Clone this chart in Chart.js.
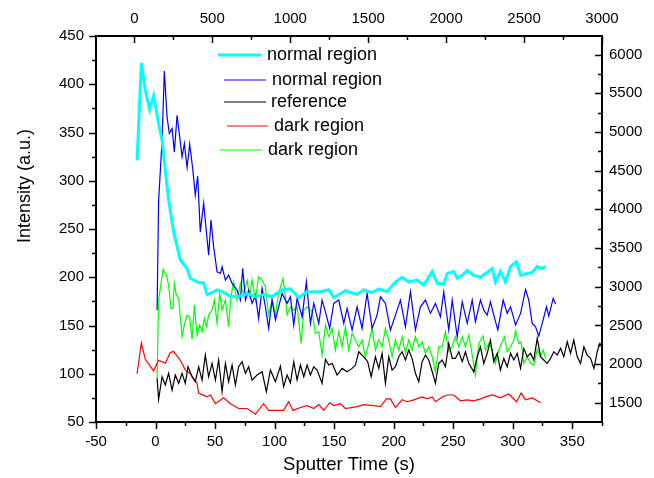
<!DOCTYPE html>
<html><head><meta charset="utf-8">
<script src="https://cdn.jsdelivr.net/npm/chart.js@4/dist/chart.umd.min.js"></script>
<style>html,body{margin:0;padding:0;background:#fff}canvas{display:block}</style>
</head><body>
<canvas id="c" width="654" height="478"></canvas>
<script>
// ---- data (time in s; intensity left axis a.u.; counts right axis) ----
const seriesLabels = ['normal region','normal region','reference','dark region','dark region'];

const cyanTime = [-15.5,-11.9,-8.6,-5.0,-1.6,2.6,5.5,11.0,15.2,20.8,26.5,29.2,34.9,40.4,43.3,47.5,51.7,55.9,62.9,69.8,76.9,83.9,90.8,97.9,106.3,113.3,120.3,127.3,138.5,145.5,149.7,159.5,169.3,174.9,181.9,187.5,194.5,201.5,207.1,212.7,219.7,225.3,232.4,236.6,242.1,245.0,250.5,253.4,257.6,261.8,267.3,272.9,282.8,285.5,289.7,293.9,298.2,303.2,306.6,316.4,320.6,324.8,327.6];
const cyanIntensity = [321,422,394,374,388,359,342,280,247,218,209,199,195,194,182,184,187,185,180,180,183,180,182,180,187,188,179,185,185,187,179,186,182,187,184,188,185,195,200,195,197,192,206,194,193,204,206,199,202,207,202,200,209,195,206,195,211,216,202,205,211,209,211];

const redTime = [-15.5,-11.9,-8.6,-1.6,2.6,8.2,12.4,15.2,20.8,25.0,29.2,34.9,36.2,43.3,46.1,50.3,57.2,62.9,69.8,76.9,83.9,90.8,95.0,100.7,107.6,111.8,115.5,121.7,127.3,132.9,137.1,141.3,146.3,149.7,155.3,159.5,169.3,174.9,183.3,188.9,193.9,197.3,201.5,207.1,211.3,216.9,224.0,228.2,232.4,235.1,240.8,245.0,250.5,256.1,261.8,267.3,272.9,277.1,282.8,289.7,296.7,303.2,307.1,310.8,316.4,323.4];
const redIntensity = [100,132,115,103,114,111,122,123,114,104,100,90,80,76,78,69,75,69,64,64,58,69,62,62,62,71,62,65,67,64,68,62,70,67,69,64,66,68,67,66,74,74,65,73,71,73,76,74,76,71,76,78,78,72,73,72,74,76,78,75,79,71,80,73,75,70];

const blueTime = [1.3,2.6,5.5,7.4,9.7,11.6,13.9,15.8,18.1,20.3,22.3,24.2,26.5,28.7,31.2,33.4,35.4,37.6,40.4,44.6,46.6,48.8,51.7,54.5,55.9,58.7,61.4,64.3,68.5,71.3,73.2,75.5,78.2,81.1,83.9,86.6,89.5,92.3,95.0,97.9,100.7,103.4,106.3,110.5,113.3,116.1,118.9,123.1,126.7,130.1,132.9,137.1,139.9,142.7,146.3,149.7,153.9,158.1,160.9,165.1,169.3,173.5,177.7,181.9,186.1,188.9,193.1,197.3,201.5,205.7,209.9,214.1,218.3,222.5,226.7,230.9,235.1,239.3,242.1,246.3,249.2,253.4,257.6,261.8,266.0,268.7,272.9,275.7,278.6,281.3,284.1,287.5,292.0,295.4,298.2,302.4,306.6,310.8,313.5,316.4,319.2,321.9,324.8,328.4,330.3,334.0,336.0];
const blueCounts = [2697,4118,4893,5788,5194,4980,5044,4742,5216,4936,4678,4851,4541,4842,4528,4183,4428,3705,4080,3408,3860,3515,3192,3171,3257,3085,3149,3042,2956,2827,3236,2827,2956,2784,2891,2590,2978,2740,2461,2827,2568,2740,2913,2784,2869,2504,2849,2611,3063,2526,2784,2526,2827,2675,2461,2784,2827,2526,2719,2439,2740,2461,2913,2461,2633,2869,2784,2439,2633,2827,2482,2934,2439,2740,2827,2655,2784,2611,2934,2439,2827,2353,2805,2526,2827,2546,2827,2697,2633,2805,2633,2439,2827,2655,2740,2504,2655,2965,2827,2526,2482,2362,2526,2740,2620,2849,2775];

const blackTime = [1.3,2.6,5.5,8.2,11.0,13.9,16.6,19.4,22.3,25.0,27.3,30.7,33.4,36.2,39.1,41.8,44.6,47.5,50.3,53.0,55.9,58.7,61.4,64.3,67.1,69.8,72.7,75.5,78.2,81.1,85.3,89.5,93.1,96.5,100.7,104.9,107.6,110.5,113.3,116.1,118.9,121.7,124.5,127.3,130.1,132.9,135.7,139.9,142.7,145.5,148.3,152.5,156.7,160.9,165.1,167.9,170.7,174.9,178.2,181.1,184.7,187.5,190.3,193.1,195.9,198.7,201.5,204.3,207.1,209.9,212.7,215.5,218.3,221.1,223.9,226.7,229.5,232.4,235.1,237.9,240.8,243.5,246.3,249.2,251.9,254.7,257.6,260.3,263.1,267.3,270.2,272.9,275.7,278.6,281.3,284.1,287.0,289.7,292.5,295.4,298.2,300.9,303.8,306.6,309.3,312.2,315.0,317.7,320.6,323.4,326.1,329.0,331.8,334.5,337.4,340.2,342.9,345.8,348.6,351.3,354.2,357.0,359.8,362.6,365.4,368.2,371.0,373.2,377.2];
const blackCounts = [1815,1544,1836,1729,1880,1664,1858,1751,1880,1751,1965,1836,1771,1965,1793,2116,1836,2009,1793,2052,1642,2009,1771,1987,1729,1965,2030,1880,1965,1793,1858,1900,1642,1922,1771,1974,1707,1858,1758,2030,1793,1987,1836,1987,1858,1965,1922,1751,2061,1987,2009,1858,1944,1900,1944,1987,2159,2094,2030,1836,2094,1944,2138,1751,2094,1922,1965,2094,2159,2052,2181,2073,1880,1771,2030,2116,2052,1900,1751,2009,2052,1965,2267,2073,2073,2159,2030,2159,2009,1900,2094,2223,2009,2138,2310,2030,2138,1922,2073,1965,2138,2052,2138,1944,2203,2094,2138,2052,2332,2094,2052,2009,2073,2159,2116,2203,2094,2288,2138,2310,2094,2009,2223,2116,2073,1944,2159,2267,2207];

const greenTime = [1.3,2.6,6.3,9.1,11.0,13.0,14.7,15.8,17.5,19.4,22.3,24.5,26.5,28.7,30.7,32.6,34.9,37.1,39.1,41.0,42.7,44.6,47.5,49.4,51.7,53.9,55.9,58.7,61.4,63.4,65.6,68.5,71.3,74.0,76.9,79.1,81.1,83.9,86.6,89.5,92.3,95.0,97.9,100.7,103.4,107.1,109.1,110.5,113.3,116.1,118.9,122.3,124.5,127.3,131.5,134.3,137.1,139.9,142.7,145.5,148.3,151.1,153.9,156.7,159.5,162.3,165.1,167.9,170.7,173.5,176.3,179.1,181.9,184.7,187.5,190.3,193.1,195.9,198.7,201.5,204.3,207.1,209.9,212.7,215.5,218.3,221.1,223.9,226.7,229.5,232.4,235.1,237.9,240.8,243.5,246.3,249.2,251.9,254.7,257.6,260.3,263.1,266.0,268.7,271.5,275.2,277.1,280.0,282.8,285.5,288.3,291.2,293.1,295.4,298.2,300.9,302.4,305.1,307.1,309.3,312.2,315.0,317.7,320.6,323.4,325.6,327.6];
const greenCounts = [1815,2827,3223,3149,3020,2719,2719,3042,2891,2849,2353,2526,2633,2611,2319,2762,2374,2504,2417,2590,2482,2633,2697,2827,2526,2913,2697,2827,2482,2869,3063,2827,3042,2891,3085,2869,3085,2827,3128,3085,2998,2633,2827,2633,2913,3107,2869,2633,2740,2697,2740,2267,2697,2740,2675,2396,2417,2116,2504,2353,2461,2181,2417,2223,2482,2181,2396,2310,2223,2310,2094,2267,2461,2181,2310,2223,2461,2310,2094,2310,2181,2353,2138,2310,2181,2353,2223,2288,2138,2223,2094,1900,2223,2223,2417,2159,2223,2353,2223,2353,2223,2374,2116,1858,2267,2362,2181,2267,2181,2009,2181,2288,2353,2159,2223,2310,2430,2267,2288,2009,2094,2009,1987,2190,2094,2181,2073];

// axis ranges and tick labels
const bottomRange = [-50, 375], topRange = [-246, 3000];
const leftRange = [50, 450], rightRange = [1251, 6240];
const bottomTicks = [-50, 0, 50, 100, 150, 200, 250, 300, 350];
const topTicks = [0, 500, 1000, 1500, 2000, 2500, 3000];
const leftTicks = [50, 100, 150, 200, 250, 300, 350, 400, 450];
const rightTicks = [1500, 2000, 2500, 3000, 3500, 4000, 4500, 5000, 5500, 6000];
const xTitle = 'Sputter Time (s)';
const yTitle = 'Intensity (a.u.)';

// ---- chart ----
const FONT = "'Liberation Sans', Arial, Helvetica, sans-serif";
function zip(xs, ys) { const n = Math.min(xs.length, ys.length); const o = []; for (let i = 0; i < n; i++) o.push({x: xs[i], y: ys[i]}); return o; }

function ds(label, xs, ys, color, width, yAxis) {
  return {label, data: zip(xs, ys), borderColor: color, backgroundColor: color, borderWidth: width,
    pointRadius: 0, tension: 0, fill: false, xAxisID: 'x', yAxisID: yAxis};
}
function fixedTicks(values) { return function (s) { s.ticks = values.map(v => ({value: v})); }; }

const tickMarks = {
  id: 'tickMarks',
  afterDraw(chart) {
    const ctx = chart.ctx;
    const cfg = [['x', 'bottom', 1], ['y', 'left', 1], ['x2', 'top', -1], ['y2', 'right', -1]];
    ctx.save();
    ctx.strokeStyle = '#000';
    ctx.lineWidth = 1.5;
    for (const [id, side, outward] of cfg) {
      const s = chart.scales[id];
      const majors = s.ticks.map(t => t.value);
      const step = majors[1] - majors[0];
      for (let v = majors[0] - step / 2; v <= s.max + 1e-9; v += step / 2) {
        if (v < s.min - 1e-9) continue;
        const isMajor = majors.some(m => Math.abs(m - v) < 1e-6);
        const len = isMajor ? 7 : 4;
        const p = Math.round(s.getPixelForValue(v)) + 0.5;
        ctx.beginPath();
        if (side === 'bottom') { ctx.moveTo(p, s.top); ctx.lineTo(p, s.top + len * outward); }
        if (side === 'top') { ctx.moveTo(p, s.bottom); ctx.lineTo(p, s.bottom - len * outward); }
        if (side === 'left') { ctx.moveTo(s.right, p); ctx.lineTo(s.right - len * outward, p); }
        if (side === 'right') { ctx.moveTo(s.left, p); ctx.lineTo(s.left + len * outward, p); }
        ctx.stroke();
      }
    }
    ctx.restore();
  }
};

const legendRows = [
  {x1: 218, x2: 261, y: 55, tx: 267},
  {x1: 224, x2: 266, y: 80, tx: 272},
  {x1: 224, x2: 266, y: 102, tx: 271},
  {x1: 227, x2: 268, y: 126, tx: 274},
  {x1: 220, x2: 262, y: 150, tx: 268}
];
const customLegend = {
  id: 'customLegend',
  afterDraw(chart) {
    const ctx = chart.ctx;
    ctx.save();
    ctx.font = "18px " + FONT;
    ctx.textBaseline = 'middle';
    ctx.fillStyle = '#000';
    chart.data.datasets.forEach((d, i) => {
      const r = legendRows[i];
      ctx.strokeStyle = d.borderColor;
      ctx.lineWidth = d.borderWidth;
      ctx.beginPath(); ctx.moveTo(r.x1, r.y); ctx.lineTo(r.x2, r.y); ctx.stroke();
      ctx.fillText(d.label, r.tx, r.y + 0.5);
    });
    // left axis title (placed above centre as in the original)
    ctx.save();
    ctx.translate(25, 186);
    ctx.rotate(-Math.PI / 2);
    ctx.textAlign = 'center';
    ctx.font = "18px " + FONT;
    ctx.fillText(yTitle, 0, 0);
    ctx.restore();
    ctx.restore();
  }
};

const whiteBg = {
  id: 'whiteBg',
  beforeDraw(chart) { const c = chart.ctx; c.save(); c.fillStyle = '#fff'; c.fillRect(0, 0, chart.width, chart.height); c.restore(); }
};

const tickFont = {family: FONT, size: 15};
const axisBorder = {display: true, color: '#000', width: 2};
const noGrid = {display: false, drawTicks: false};
const plain = v => String(v);

new Chart(document.getElementById('c'), {
  type: 'line',
  data: {
    datasets: [
      ds(seriesLabels[0], cyanTime, cyanIntensity, '#00FFFF', 3, 'y'),
      ds(seriesLabels[1], blueTime, blueCounts, '#0000FF', 1.2, 'y2'),
      ds(seriesLabels[2], blackTime, blackCounts, '#000000', 1.2, 'y2'),
      ds(seriesLabels[3], redTime, redIntensity, '#FF0000', 1.2, 'y'),
      ds(seriesLabels[4], greenTime, greenCounts, '#00FF00', 1.2, 'y2')
    ]
  },
  options: {
    responsive: false, animation: false, devicePixelRatio: 1,
    layout: {padding: 0},
    plugins: {legend: {display: false}, tooltip: {enabled: false}},
    scales: {
      x: {type: 'linear', position: 'bottom', min: bottomRange[0], max: bottomRange[1],
        afterBuildTicks: fixedTicks(bottomTicks),
        ticks: {font: tickFont, color: '#000', padding: 11, maxRotation: 0, autoSkip: false, callback: plain},
        grid: noGrid, border: axisBorder,
        title: {display: true, text: xTitle, color: '#000', font: {family: FONT, size: 18.5}, padding: {top: 0, bottom: 2}},
        afterFit(s) { s.height = 56; }},
      x2: {type: 'linear', position: 'top', min: topRange[0], max: topRange[1],
        afterBuildTicks: fixedTicks(topTicks),
        ticks: {font: tickFont, color: '#000', padding: 8, maxRotation: 0, autoSkip: false, callback: plain},
        grid: noGrid, border: axisBorder,
        afterFit(s) { s.height = 36; }},
      y: {type: 'linear', position: 'left', min: leftRange[0], max: leftRange[1],
        afterBuildTicks: fixedTicks(leftTicks),
        ticks: {font: tickFont, color: '#000', padding: 12, autoSkip: false, callback: plain},
        grid: noGrid, border: axisBorder,
        afterFit(s) { s.width = 96; }},
      y2: {type: 'linear', position: 'right', min: rightRange[0], max: rightRange[1],
        afterBuildTicks: fixedTicks(rightTicks),
        ticks: {font: tickFont, color: '#000', padding: 7, autoSkip: false, callback: plain},
        grid: noGrid, border: axisBorder,
        afterFit(s) { s.width = 52; }}
    }
  },
  plugins: [whiteBg, tickMarks, customLegend]
});
</script>
</body></html>
